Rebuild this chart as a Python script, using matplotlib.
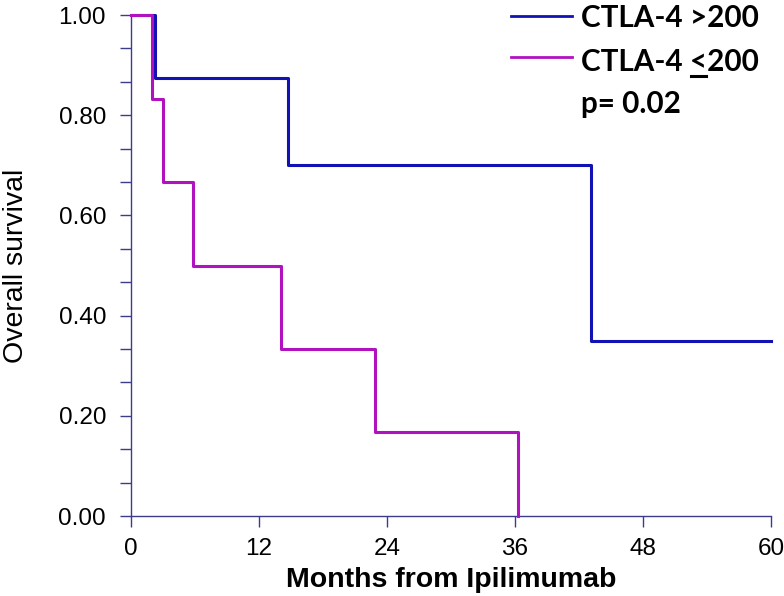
"""
Overall survival by CTLA-4 level, Kaplan-Meier style step curves.
"""
import matplotlib
matplotlib.use("Agg")
import matplotlib.pyplot as plt
from matplotlib.lines import Line2D
from matplotlib.ticker import MultipleLocator, FormatStrFormatter

# step curves (months, survival)
HIGH_MONTHS = [0, 2.25, 14.75, 43.1, 60]
HIGH_SURV = [1.0, 0.875, 0.70, 0.35, 0.35]
LOW_MONTHS = [0, 1.94, 3.0, 5.8, 14.1, 22.9, 36.3]
LOW_SURV = [1.0, 0.833, 0.667, 0.5, 0.333, 0.167, 0.0]

X_TICKS = [0, 12, 24, 36, 48, 60]
Y_TICKS = [0.0, 0.2, 0.4, 0.6, 0.8, 1.0]

BLUE = "#1212b4"
MAGENTA = "#b012c0"
AXIS = "#3c3c8c"

plt.rcParams['font.family'] = ['Liberation Sans', 'DejaVu Sans']

fig = plt.figure(figsize=(7.84, 5.96), dpi=100)
ax = fig.add_axes([0.1671, 0.1342, 0.8163, 0.8406])

ax.step(HIGH_MONTHS, HIGH_SURV, where='post', color=BLUE, lw=2.2, clip_on=False, zorder=3)
ax.step(LOW_MONTHS, LOW_SURV, where='post', color=MAGENTA, lw=2.2, clip_on=False, zorder=3)

ax.set_xlim(0, 60)
ax.set_ylim(0, 1)
ax.set_xticks(X_TICKS)
ax.set_yticks(Y_TICKS)
ax.yaxis.set_minor_locator(MultipleLocator(0.2 / 3))
ax.yaxis.set_major_formatter(FormatStrFormatter('%.2f'))

for side in ['top', 'right']:
    ax.spines[side].set_visible(False)
for side in ['left', 'bottom']:
    ax.spines[side].set_color(AXIS)
    ax.spines[side].set_linewidth(1.0)

ax.tick_params(axis='both', which='both', direction='out', length=8, width=1.0,
               color=AXIS, labelsize=17.5, labelcolor='black')
ax.tick_params(axis='y', which='both', pad=10)
ax.tick_params(axis='x', which='major', pad=8)

ax.set_xlabel("Months from Ipilimumab", fontsize=20.5, fontweight='bold', labelpad=5)
ax.set_ylabel("Overall survival", fontsize=20.5)
ax.yaxis.set_label_coords(-0.159, 0.5)

# legend drawn by hand
fig.add_artist(Line2D([0.652, 0.7296], [0.973, 0.973], color=BLUE, lw=2.0))
fig.add_artist(Line2D([0.652, 0.7296], [0.904, 0.904], color=MAGENTA, lw=2.0))
leg_font = dict(family=['Lato', 'DejaVu Sans'], fontweight='bold', fontsize=21.3,
                va='baseline', ha='left')
TX = 0.741
ROW_Y = [0.9547, 0.8809, 0.8104]
fig.text(TX, ROW_Y[0], "CTLA-4 >200", **leg_font)
fig.text(TX, ROW_Y[1], "CTLA-4 <200", **leg_font)
fig.text(TX, ROW_Y[2], "p= 0.02", **leg_font)

# underline the "<" so it reads as less-or-equal
renderer = fig.canvas.get_renderer()
pre = fig.text(TX, ROW_Y[1], "CTLA-4 ", **leg_font)
lt = fig.text(TX, ROW_Y[1], "CTLA-4 <", **leg_font)
x0 = pre.get_window_extent(renderer).x1
x1 = lt.get_window_extent(renderer).x1
pre.remove()
lt.remove()
W = fig.bbox.width
H = fig.bbox.height
uy = ROW_Y[1] - 5 / H
fig.add_artist(Line2D([(x0 + 1) / W, (x1 - 1) / W], [uy, uy], color='black', lw=2.2))

fig.savefig("out.png", dpi=100)
